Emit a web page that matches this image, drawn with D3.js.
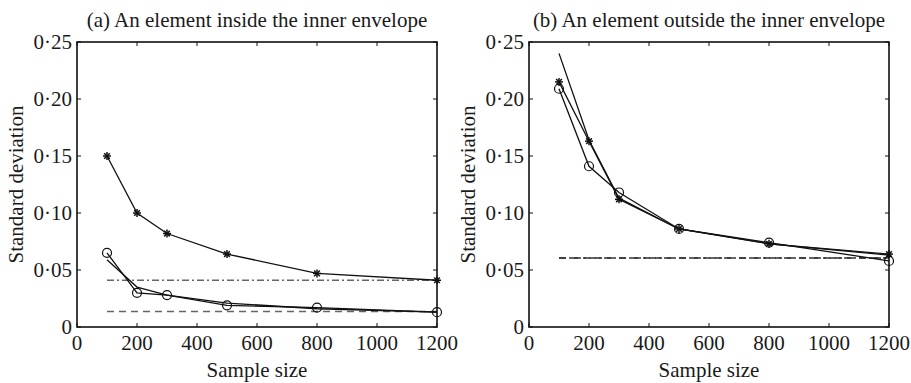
<!DOCTYPE html>
<html>
<head>
<meta charset="utf-8">
<script src="https://cdn.jsdelivr.net/npm/d3@7"></script>
<style>
  body { margin: 0; background: #fff; }
</style>
</head>
<body>
<svg id="chart" width="911" height="383" font-family="Liberation Serif, Times New Roman, Times, serif"></svg>
<script>
// sample sizes shared by both panels
const sampleSizes = [100, 200, 300, 500, 800, 1200];
const xTicks = [0, 200, 400, 600, 800, 1000, 1200];
const yTicks = [0, 0.05, 0.10, 0.15, 0.20, 0.25];

// panel (a)
const starsA = [0.150, 0.100, 0.082, 0.064, 0.047, 0.041];
const circlesA = [0.065, 0.030, 0.028, 0.019, 0.017, 0.013];
const plainA = [0.059, 0.035, 0.028, 0.021, 0.016, 0.013];
const dashDotA = 0.041;
const dashedA = 0.0135;

// panel (b)
const starsB = [0.215, 0.163, 0.112, 0.086, 0.073, 0.064];
const circlesB = [0.209, 0.141, 0.118, 0.086, 0.074, 0.058];
const plainB = [0.240, 0.164, 0.113, 0.086, 0.073, 0.063];
const dashDotB = 0.0605;
const dashedB = 0.0605;

const panels = [
  { title: '(a) An element inside the inner envelope', left: 77, stars: starsA, circles: circlesA, plain: plainA, dashDot: dashDotA, dashed: dashedA, refColor: '#666' },
  { title: '(b) An element outside the inner envelope', left: 529, stars: starsB, circles: circlesB, plain: plainB, dashDot: dashDotB, dashed: dashedB, refColor: '#333' },
];

const plotWidth = 360;
const plotTop = 42;
const plotBottom = 327;
const fontSize = 21;
const tickLen = 4;
const textColor = '#1a1a1a';

const fmt = (v) => (v === 0 ? '0' : d3.format('.2f')(v).replace('.', '\u00b7'));

const svg = d3.select('#chart');

panels.forEach((p) => {
  const x = d3.scaleLinear().domain([0, 1200]).range([p.left, p.left + plotWidth]);
  const y = d3.scaleLinear().domain([0, 0.25]).range([plotBottom, plotTop]);
  const g = svg.append('g').attr('fill', textColor).attr('font-size', fontSize);

  // reference lines
  const refLine = (val, dash) => {
    g.append('line')
      .attr('x1', x(100)).attr('x2', x(1200))
      .attr('y1', y(val)).attr('y2', y(val))
      .attr('stroke', p.refColor)
      .attr('stroke-width', 1.5)
      .attr('stroke-dasharray', dash);
  };
  refLine(p.dashDot, '7,3,2,3');
  refLine(p.dashed, '7,5');

  const line = d3.line().x((d, i) => x(sampleSizes[i])).y((d) => y(d));
  [p.plain, p.circles, p.stars].forEach((series) => {
    g.append('path')
      .attr('d', line(series))
      .attr('fill', 'none')
      .attr('stroke', '#111')
      .attr('stroke-width', 1.3);
  });

  g.selectAll('.circle')
    .data(p.circles)
    .join('circle')
    .attr('cx', (d, i) => x(sampleSizes[i]))
    .attr('cy', (d) => y(d))
    .attr('r', 4.5)
    .attr('fill', 'none')
    .attr('stroke', '#111')
    .attr('stroke-width', 1.2);

  const star = g.selectAll('.star')
    .data(p.stars)
    .join('g')
    .attr('transform', (d, i) => `translate(${x(sampleSizes[i])},${y(d)})`);
  [0, 45, 90, 135].forEach((a) => {
    const r = 4;
    const rad = (a * Math.PI) / 180;
    star.append('line')
      .attr('x1', -r * Math.cos(rad)).attr('y1', -r * Math.sin(rad))
      .attr('x2', r * Math.cos(rad)).attr('y2', r * Math.sin(rad))
      .attr('stroke', '#111')
      .attr('stroke-width', 1.5);
  });

  // frame
  g.append('rect')
    .attr('x', p.left).attr('y', plotTop)
    .attr('width', plotWidth).attr('height', plotBottom - plotTop)
    .attr('fill', 'none')
    .attr('stroke', '#111')
    .attr('stroke-width', 1.6);

  // inward ticks on all sides
  xTicks.forEach((t) => {
    g.append('line').attr('x1', x(t)).attr('x2', x(t)).attr('y1', plotBottom).attr('y2', plotBottom - tickLen).attr('stroke', '#111');
    g.append('line').attr('x1', x(t)).attr('x2', x(t)).attr('y1', plotTop).attr('y2', plotTop + tickLen).attr('stroke', '#111');
    g.append('text')
      .attr('x', x(t)).attr('y', plotBottom + 23)
      .attr('text-anchor', 'middle')
      .text(t);
  });
  yTicks.forEach((t) => {
    g.append('line').attr('x1', p.left).attr('x2', p.left + tickLen).attr('y1', y(t)).attr('y2', y(t)).attr('stroke', '#111');
    g.append('line').attr('x1', p.left + plotWidth).attr('x2', p.left + plotWidth - tickLen).attr('y1', y(t)).attr('y2', y(t)).attr('stroke', '#111');
    g.append('text')
      .attr('x', p.left - 5).attr('y', y(t))
      .attr('dy', '0.33em')
      .attr('text-anchor', 'end')
      .text(fmt(t));
  });

  g.append('text')
    .attr('x', p.left + plotWidth / 2).attr('y', 27)
    .attr('text-anchor', 'middle')
    .text(p.title);

  g.append('text')
    .attr('x', p.left + plotWidth / 2).attr('y', 377)
    .attr('text-anchor', 'middle')
    .text('Sample size');

  g.append('text')
    .attr('transform', `translate(${p.left - 54},${(plotTop + plotBottom) / 2}) rotate(-90)`)
    .attr('text-anchor', 'middle')
    .text('Standard deviation');
});
</script>
</body>
</html>
